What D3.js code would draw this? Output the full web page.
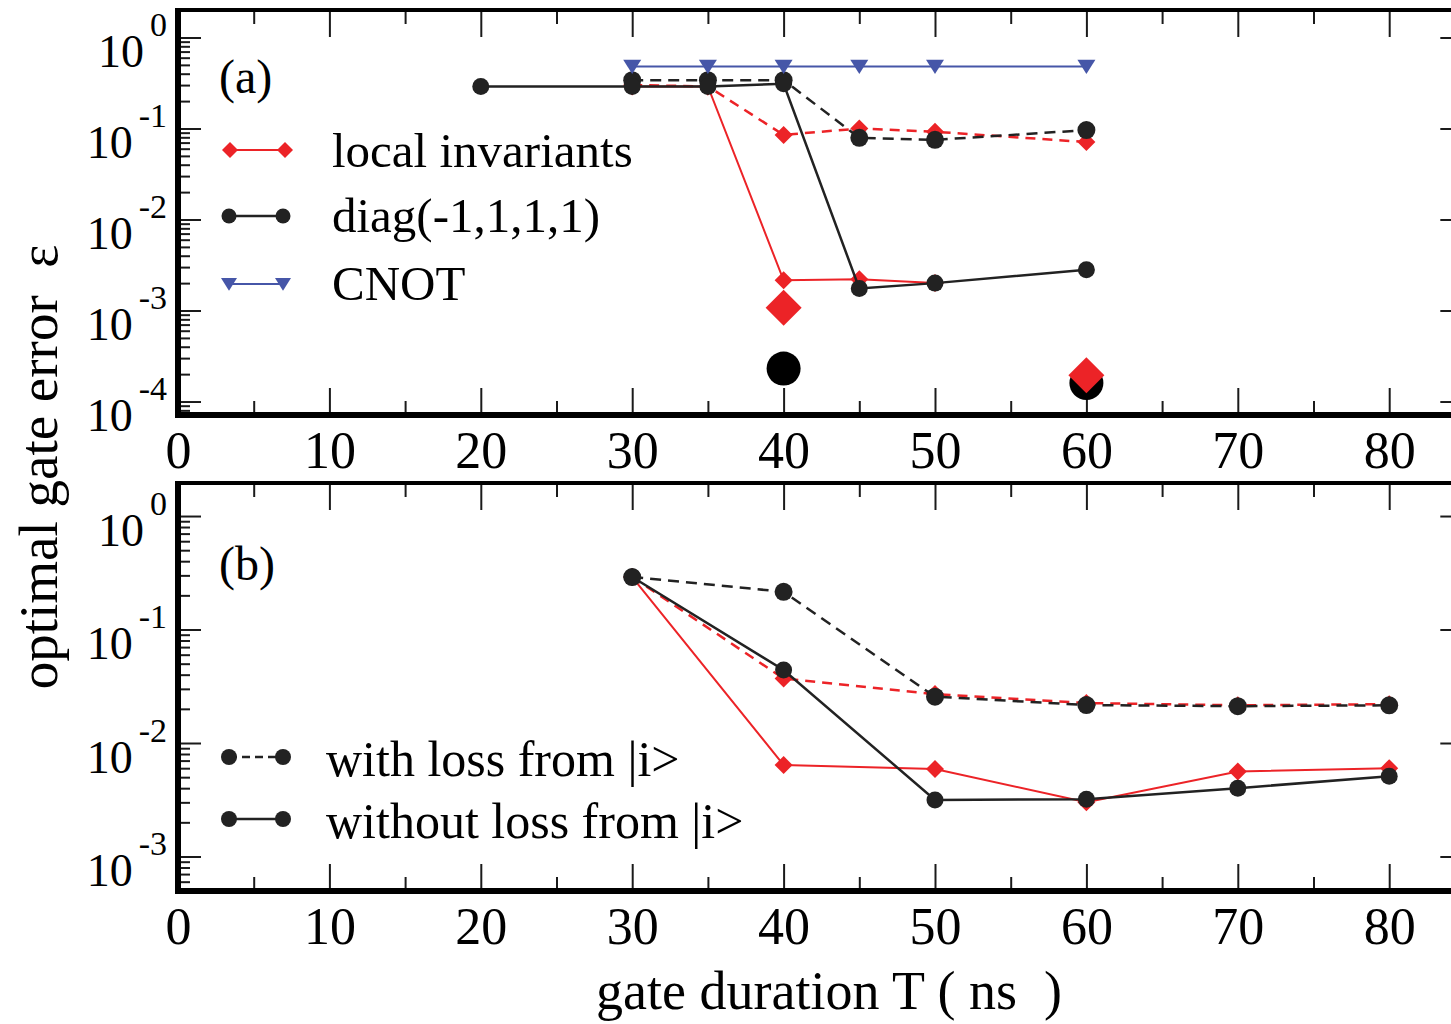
<!DOCTYPE html>
<html>
<head>
<meta charset="utf-8">
<script src="https://cdn.jsdelivr.net/npm/d3@7"></script>
<style>
  html, body { margin: 0; padding: 0; background: #fff; }
  svg { display: block; font-family: "Liberation Serif", "Times New Roman", serif; }
</style>
</head>
<body>
<svg id="chart" width="1451" height="1024"></svg>
<script>
// ---------------- data ----------------
const xTickValues = [0, 10, 20, 30, 40, 50, 60, 70, 80];
const xMinorValues = [5, 15, 25, 35, 45, 55, 65, 75];
const yDecadesA = [1, 1e-1, 1e-2, 1e-3, 1e-4];
const yDecadesB = [1, 1e-1, 1e-2, 1e-3];

const legendLabelsA = ["local invariants", "diag(-1,1,1,1)", "CNOT"];
const legendLabelsB = ["with loss from |i>", "without loss from |i>"];
const panelLabels = ["(a)", "(b)"];
const xTitle = "gate duration T ( ns  )";
const yTitle = "optimal gate error  \u03b5";

// panel (a): gate error vs. duration T (ns)
const tLocalSolidA = [30, 35, 40, 45, 50];
const localSolidA = [0.29, 0.29, 2.15e-3, 2.2e-3, 2.0e-3];
const tLocalDashedA = [30, 35, 40, 45, 50, 60];
const localDashedA = [0.30, 0.29, 0.085, 0.10, 0.092, 0.071];

const tDiagSolidA = [20, 30, 35, 40, 45, 50, 60];
const diagSolidA = [0.29, 0.29, 0.29, 0.31, 1.75e-3, 2.0e-3, 2.8e-3];
const tDiagDashedA = [30, 35, 40, 45, 50, 60];
const diagDashedA = [0.34, 0.34, 0.34, 0.079, 0.075, 0.096];

const tCnotA = [30, 35, 40, 45, 50, 60];
const cnotA = [0.48, 0.48, 0.48, 0.48, 0.48, 0.48];

// isolated best results
const tLocalBestA = [40, 60];
const localBestA = [1.07e-3, 1.95e-4];
const tDiagBestA = [40, 60];
const diagBestA = [2.3e-4, 1.6e-4];

// panel (b)
const tB = [30, 40, 50, 60, 70, 80];
const localWithLossB = [0.29, 0.037, 0.027, 0.0225, 0.0215, 0.022];
const localNoLossB = [0.29, 6.4e-3, 5.9e-3, 3.0e-3, 5.6e-3, 6.0e-3];
const diagWithLossB = [0.29, 0.215, 0.0256, 0.0216, 0.0211, 0.0215];
const diagNoLossB = [0.29, 0.044, 3.15e-3, 3.2e-3, 4.0e-3, 5.1e-3];

// ---------------- styling ----------------
const RED = "#ec2327";
const BLUE = "#4656a8";
const BLACK = "#000";
const FONT = '"Liberation Serif", "Times New Roman", serif';

const svg = d3.select("#chart");

const x = d3.scaleLinear().domain([0, 84.3]).range([178, 178 + 84.3 * 15.14]);

const panels = [
  { top: 10, bottom: 415, logMin: -4.148, logMax: 0.302, decades: yDecadesA },
  { top: 483, bottom: 891, logMin: -3.304, logMax: 0.291, decades: yDecadesB }
];
panels.forEach(p => {
  p.y = d3.scaleLog().domain([10 ** p.logMin, 10 ** p.logMax]).range([p.bottom, p.top]);
  p.minor = [];
  for (let k = Math.floor(p.logMin); k <= Math.ceil(p.logMax); k++) {
    for (let m = 2; m <= 9; m++) {
      const v = m * 10 ** k;
      if (Math.log10(v) > p.logMin && Math.log10(v) < p.logMax) p.minor.push(v);
    }
  }
});

function styleAxis(g, fontSize) {
  g.select(".domain").remove();
  g.attr("font-family", FONT).attr("font-size", fontSize);
  g.selectAll(".tick line").attr("stroke", "#1a1a1a").attr("stroke-width", 2);
  g.selectAll(".tick text").attr("fill", "#000");
}

function drawAxes(p) {
  const xR = x.range()[1];
  // x axis (bottom, labelled)
  svg.append("g").attr("transform", `translate(0,${p.bottom})`)
    .call(d3.axisBottom(x).tickValues(xTickValues).tickSize(-27).tickPadding(16).tickFormat(d3.format("d")))
    .call(g => styleAxis(g, 52));
  svg.append("g").attr("transform", `translate(0,${p.bottom})`)
    .call(d3.axisBottom(x).tickValues(xMinorValues).tickSize(-14).tickFormat(() => ""))
    .call(g => styleAxis(g, 10));
  // x axis (top, ticks only)
  svg.append("g").attr("transform", `translate(0,${p.top})`)
    .call(d3.axisTop(x).tickValues(xTickValues).tickSize(-27).tickFormat(() => ""))
    .call(g => styleAxis(g, 10));
  svg.append("g").attr("transform", `translate(0,${p.top})`)
    .call(d3.axisTop(x).tickValues(xMinorValues).tickSize(-14).tickFormat(() => ""))
    .call(g => styleAxis(g, 10));
  // y axis (left, labelled as powers of ten)
  const yl = svg.append("g").attr("transform", `translate(${x.range()[0]},0)`)
    .call(d3.axisLeft(p.y).tickValues(p.decades).tickSize(-23).tickPadding(11).tickFormat(() => ""))
    .call(g => styleAxis(g, 46));
  yl.selectAll(".tick text").each(function (d) {
    const e = Math.round(Math.log10(d));
    const t = d3.select(this).attr("dy", null).attr("y", 29);
    t.append("tspan").text("10");
    t.append("tspan").attr("dx", 6).attr("dy", -31).attr("font-size", 34).text(String(e));
  });
  svg.append("g").attr("transform", `translate(${x.range()[0]},0)`)
    .call(d3.axisLeft(p.y).tickValues(p.minor).tickSize(-12).tickFormat(() => ""))
    .call(g => styleAxis(g, 10));
  // y axis (right, ticks only)
  svg.append("g").attr("transform", `translate(${xR},0)`)
    .call(d3.axisRight(p.y).tickValues(p.decades).tickSize(-14).tickFormat(() => ""))
    .call(g => styleAxis(g, 10));
  // frame
  const fr = svg.append("g").attr("stroke", "#000").attr("fill", "none");
  fr.append("line").attr("x1", x.range()[0] - 3).attr("x2", xR + 2).attr("y1", p.top).attr("y2", p.top).attr("stroke-width", 4);
  fr.append("line").attr("x1", x.range()[0] - 3).attr("x2", xR + 2).attr("y1", p.bottom).attr("y2", p.bottom).attr("stroke-width", 6);
  fr.append("line").attr("x1", x.range()[0]).attr("x2", x.range()[0]).attr("y1", p.top).attr("y2", p.bottom).attr("stroke-width", 6);
  fr.append("line").attr("x1", xR).attr("x2", xR).attr("y1", p.top).attr("y2", p.bottom).attr("stroke-width", 4);
}

const diamond = d3.symbol().type(d3.symbolSquare);
const triDown = {
  draw(ctx, size) {
    const w = Math.sqrt(size);
    ctx.moveTo(-w / 2, -w * 0.38);
    ctx.lineTo(w / 2, -w * 0.38);
    ctx.lineTo(0, w * 0.42);
    ctx.closePath();
  }
};

function series(p, ts, vs, opt) {
  const pts = ts.map((t, i) => ({ t, v: vs[i] }));
  const g = svg.append("g");
  if (opt.line !== false) {
    g.append("path")
      .attr("d", d3.line().x(d => x(d.t)).y(d => p.y(d.v))(pts))
      .attr("fill", "none")
      .attr("stroke", opt.color)
      .attr("stroke-width", opt.width || 2)
      .attr("stroke-dasharray", opt.dash || null);
  }
  drawMarkers(g, pts.map(d => [x(d.t), p.y(d.v)]), opt);
}

function drawMarkers(g, xy, opt) {
  xy.forEach(([cx, cy]) => {
    if (opt.marker === "circle") {
      g.append("circle").attr("cx", cx).attr("cy", cy).attr("r", opt.size).attr("fill", opt.color);
    } else if (opt.marker === "diamond") {
      const side = opt.size * Math.SQRT2;
      g.append("path").attr("d", diamond.size(side * side)())
        .attr("transform", `translate(${cx},${cy}) rotate(45)`).attr("fill", opt.color);
    } else if (opt.marker === "triangle") {
      g.append("path").attr("d", d3.symbol().type(triDown).size(opt.size * opt.size)())
        .attr("transform", `translate(${cx},${cy})`).attr("fill", opt.color);
    }
  });
}

function legendEntry(y, x1, x2, textX, baseline, label, opt, fontSize) {
  const g = svg.append("g");
  g.append("line").attr("x1", x1).attr("x2", x2).attr("y1", y).attr("y2", y)
    .attr("stroke", opt.color).attr("stroke-width", opt.width || 2)
    .attr("stroke-dasharray", opt.dash || null);
  drawMarkers(g, [[x1, y], [x2, y]], opt);
  g.append("text").attr("x", textX).attr("y", baseline)
    .attr("font-family", FONT).attr("font-size", fontSize || 49).attr("fill", "#000")
    .text(label);
}

// ---------------- panel (a) ----------------
const pA = panels[0];
drawAxes(pA);
series(pA, tLocalDashedA, localDashedA, { color: RED, dash: "10,7", width: 2.5, marker: "diamond", size: 9 });
series(pA, tLocalSolidA, localSolidA, { color: RED, width: 2, marker: "diamond", size: 9 });
series(pA, tDiagDashedA, diagDashedA, { color: "#222", dash: "11,7", width: 2.5, marker: "circle", size: 9 });
series(pA, tDiagSolidA, diagSolidA, { color: "#222", width: 2.5, marker: "circle", size: 8.5 });
series(pA, tCnotA, cnotA, { color: BLUE, width: 2, marker: "triangle", size: 18 });
series(pA, tDiagBestA, diagBestA, { line: false, color: BLACK, marker: "circle", size: 17 });
series(pA, tLocalBestA, localBestA, { line: false, color: RED, marker: "diamond", size: 18 });

svg.append("text").attr("x", 219).attr("y", 93).attr("font-family", FONT).attr("font-size", 48).text(panelLabels[0]);
legendEntry(150, 230, 285, 332, 167, legendLabelsA[0], { color: RED, width: 2, marker: "diamond", size: 8 });
legendEntry(216, 229, 283, 332, 232, legendLabelsA[1], { color: "#222", width: 2.5, marker: "circle", size: 7.5 });
legendEntry(284, 229, 283, 332, 300, legendLabelsA[2], { color: BLUE, width: 2, marker: "triangle", size: 16 });

// ---------------- panel (b) ----------------
const pB = panels[1];
drawAxes(pB);
series(pB, tB, localWithLossB, { color: RED, dash: "10,7", width: 2.5, marker: "diamond", size: 9 });
series(pB, tB, localNoLossB, { color: RED, width: 2, marker: "diamond", size: 9 });
series(pB, tB, diagWithLossB, { color: "#222", dash: "11,7", width: 2.5, marker: "circle", size: 9 });
series(pB, tB, diagNoLossB, { color: "#222", width: 2.5, marker: "circle", size: 8.5 });

svg.append("text").attr("x", 219).attr("y", 580).attr("font-family", FONT).attr("font-size", 48).text(panelLabels[1]);
legendEntry(757, 229, 283, 326, 776, legendLabelsB[0], { color: "#222", dash: "8,5", width: 2.5, marker: "circle", size: 8 }, 50);
legendEntry(819, 229, 283, 326, 838, legendLabelsB[1], { color: "#222", width: 2.5, marker: "circle", size: 8 }, 50);

// ---------------- titles ----------------
svg.append("text")
  .attr("transform", "translate(57,467) rotate(-90)")
  .attr("text-anchor", "middle")
  .attr("font-family", FONT).attr("font-size", 55)
  .style("white-space", "pre")
  .text(yTitle);
svg.append("text")
  .attr("x", 829).attr("y", 1009)
  .attr("text-anchor", "middle")
  .attr("font-family", FONT).attr("font-size", 54)
  .style("white-space", "pre")
  .text(xTitle);
</script>
</body>
</html>
